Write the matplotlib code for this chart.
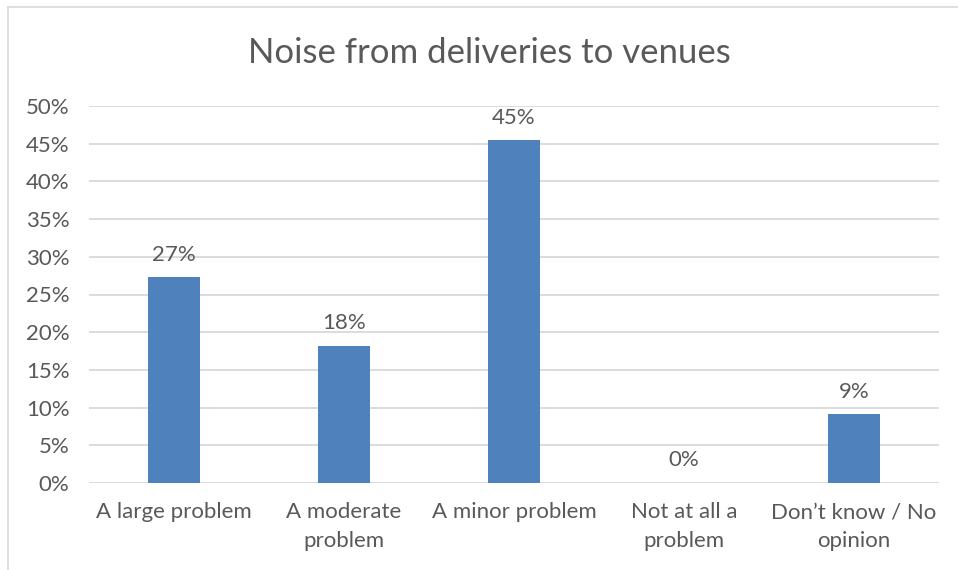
import matplotlib
matplotlib.use("Agg")
import matplotlib.pyplot as plt
from matplotlib.ticker import MultipleLocator, FuncFormatter
from matplotlib.lines import Line2D

categories = ["A large problem", "A moderate\nproblem", "A minor problem",
              "Not at all a\nproblem", "Don\u2019t know / No\nopinion"]
values = [27.27, 18.18, 45.45, 0.0, 9.09]
labels = ["27%", "18%", "45%", "0%", "9%"]
title = "Noise from deliveries to venues"

TEXT = "#595959"
BAR = "#4F81BD"
GRID = "#D9D9D9"

plt.rcParams["font.family"] = ["Lato", "DejaVu Sans"]

fig = plt.figure(figsize=(9.58, 5.70), dpi=100)
ax = fig.add_axes([89 / 958, 1 - 483 / 570, 850 / 958, 377 / 570])

x = range(len(categories))
ax.bar(x, values, width=0.31, color=BAR, zorder=3)
for xi, v, lab in zip(x, values, labels):
    ax.annotate(lab, (xi, v), xytext=(0, 9), textcoords="offset points",
                ha="center", va="bottom", fontsize=16, color=TEXT)

ax.set_xlim(-0.5, len(categories) - 0.5)
ax.set_ylim(0, 50)
ax.yaxis.set_major_locator(MultipleLocator(5))
ax.yaxis.set_major_formatter(FuncFormatter(lambda v, _: f"{v:.0f}%"))
ax.grid(axis="y", color=GRID, linewidth=1.3, zorder=0)
ax.set_xticks(list(x))
ax.set_xticklabels(categories, fontsize=16, color=TEXT, linespacing=1.55)
ax.tick_params(axis="y", labelsize=16, labelcolor=TEXT, length=0, pad=14)
ax.tick_params(axis="x", length=0, pad=14)
for s in ax.spines.values():
    s.set_visible(False)

fig.text(489 / 958, 1 - 53 / 570, title, ha="center", va="center",
         fontsize=25, color=TEXT)

# outer chart frame (top and left edges)
fig.add_artist(Line2D([8 / 958, 1], [1 - 7 / 570, 1 - 7 / 570],
                      transform=fig.transFigure, color=GRID, linewidth=1.2))
fig.add_artist(Line2D([8 / 958, 8 / 958], [0, 1 - 7 / 570],
                      transform=fig.transFigure, color=GRID, linewidth=1.2))

fig.savefig("out.png", dpi=100)
